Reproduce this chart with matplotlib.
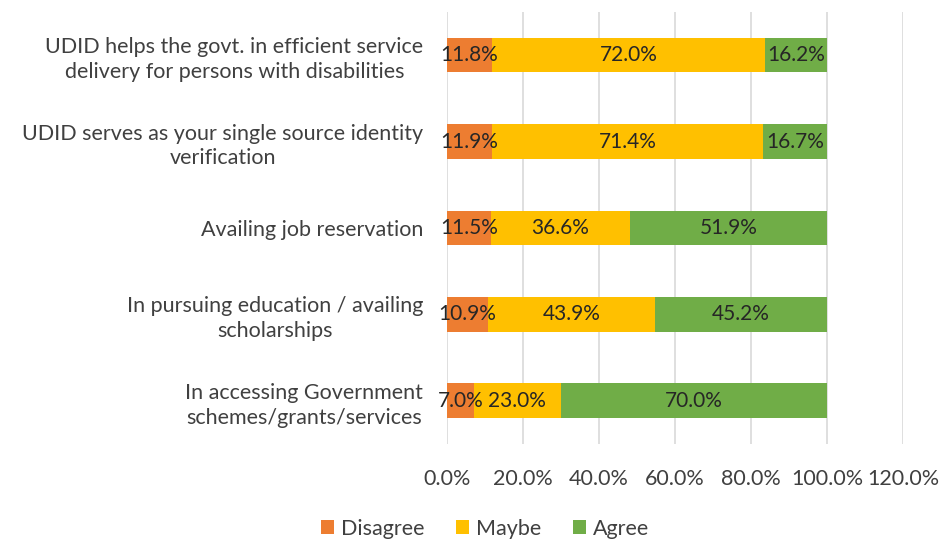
import numpy as np
import matplotlib.pyplot as plt

plt.rcParams['font.family'] = ['Lato', 'DejaVu Sans']

# survey statements, bottom to top
categories = [
    'In accessing Government\nschemes/grants/services',
    'In pursuing education / availing\nscholarships',
    'Availing job reservation',
    'UDID serves as your single source identity\nverification',
    'UDID helps the govt. in efficient service\ndelivery for persons with disabilities',
]
disagree = [7.0, 10.9, 11.5, 11.9, 11.8]
maybe = [23.0, 43.9, 36.6, 71.4, 72.0]
agree = [70.0, 45.2, 51.9, 16.7, 16.2]

series = [('Disagree', disagree, '#ED7D31'),
          ('Maybe', maybe, '#FFC000'),
          ('Agree', agree, '#70AD47')]

fig = plt.figure(figsize=(9.42, 5.42), dpi=100)
ax = fig.add_axes([0.4745, 0.181, 0.484, 0.797])

y = np.arange(len(categories))
left = np.zeros(len(categories))
for name, vals, col in series:
    vals = np.array(vals)
    ax.barh(y, vals, left=left, height=0.4, color=col, label=name, zorder=2)
    for yi, l, v in zip(y, left, vals):
        ax.text(l + v / 2, yi, '%.1f%%' % v, ha='center', va='center',
                fontsize=15, color='#262626', zorder=3)
    left = left + vals

ax.set_xlim(0, 120)
ax.set_ylim(-0.5, len(categories) - 0.5)
ax.set_xticks(np.arange(0, 121, 20))
ax.set_xticklabels(['%.1f%%' % t for t in np.arange(0, 121, 20)])
ax.set_yticks(y)
ax.set_yticklabels(categories, multialignment='center', linespacing=1.3)
ax.tick_params(axis='both', length=0, labelsize=15.5, colors='#404040')
ax.tick_params(axis='x', pad=18)
ax.tick_params(axis='y', pad=17)
ax.grid(axis='x', color='#D9D9D9', linewidth=1.2, zorder=0)
for s in ax.spines.values():
    s.set_visible(False)

fig.legend(loc='lower center', bbox_to_anchor=(0.515, -0.03), ncol=3,
           frameon=False, fontsize=15.5, handlelength=0.6, handleheight=0.6,
           handletextpad=0.3, columnspacing=1.5, labelcolor='#404040')

fig.savefig('out.png', dpi=100)
